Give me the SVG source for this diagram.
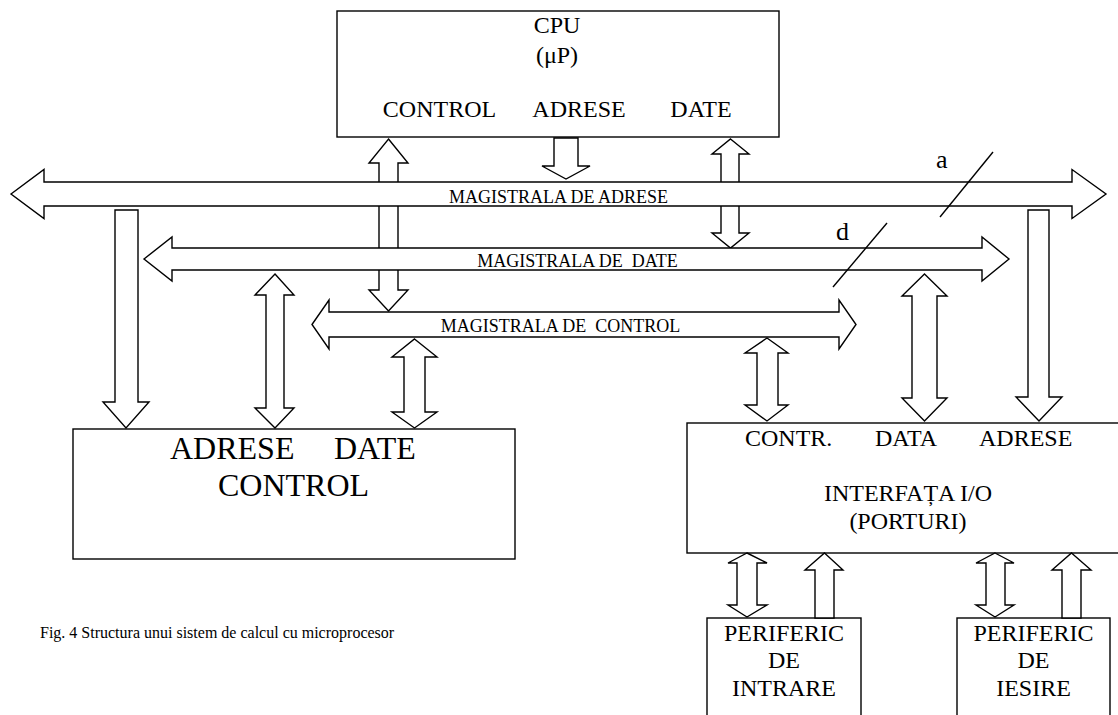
<svg xmlns="http://www.w3.org/2000/svg" width="1118" height="715" viewBox="0 0 1118 715">
<style>
.box{fill:#fff;stroke:#000;stroke-width:1.4}
.arr{fill:#fff;stroke:#000;stroke-width:1.4;stroke-linejoin:miter}
.bus{fill:#fff;stroke:#000;stroke-width:1.4}
.sl{stroke:#000;stroke-width:1.4;fill:none}
text{font-family:"Liberation Serif","Times New Roman",serif;fill:#000}
.t24{font-size:24px}
.t32{font-size:32px}
.t18{font-size:18px}
.t26{font-size:26px}
.mid{text-anchor:middle}
</style>
<rect width="1118" height="715" fill="#fff"/>

<g id="cpu">
<rect class="box" x="337" y="11" width="442" height="126"/>
<text class="t24 mid" x="557" y="33">CPU</text>
<text class="t24 mid" x="557" y="63">(μP)</text>
<text class="t24 mid" x="439.5" y="117">CONTROL</text>
<text class="t24 mid" x="579" y="117">ADRESE</text>
<text class="t24 mid" x="701" y="117">DATE</text>
</g>

<g id="memory">
<rect class="box" x="73" y="429" width="442" height="130"/>
<text class="t32" y="459"><tspan x="170">ADRESE</tspan><tspan x="334">DATE</tspan></text>
<text class="t32 mid" x="293.5" y="496">CONTROL</text>
</g>

<g id="interface">
<rect class="box" x="687" y="423" width="443" height="130"/>
<text class="t24" y="446"><tspan x="745">CONTR.</tspan><tspan x="875">DATA</tspan><tspan x="979">ADRESE</tspan></text>
<text class="t24 mid" x="908" y="501">INTERFAȚA I/O</text>
<text class="t24 mid" x="908" y="529">(PORTURI)</text>
</g>

<g id="periferic-intrare">
<rect class="box" x="707" y="618" width="154" height="110"/>
<text class="t24 mid" x="784" y="641">PERIFERIC</text>
<text class="t24 mid" x="784" y="668">DE</text>
<text class="t24 mid" x="784" y="696">INTRARE</text>
</g>

<g id="periferic-iesire">
<rect class="box" x="957" y="618" width="153" height="110"/>
<text class="t24 mid" x="1033.5" y="641">PERIFERIC</text>
<text class="t24 mid" x="1033.5" y="668">DE</text>
<text class="t24 mid" x="1033.5" y="696">IESIRE</text>
</g>

<g id="connectors">
<!-- CPU control (double) -->
<polygon class="arr" points="388.5,139 408,163 398,163 398,290 408,290 388.5,311 369,290 379,290 379,163 369,163"/>
<!-- CPU adrese (down) -->
<polygon class="arr" points="554,138 578,138 578,166 590,166 566,179 542,166 554,166"/>
<!-- CPU date (double) -->
<polygon class="arr" points="730.5,139 749,154 739,154 739,233 749,233 730.5,248 712,233 721,233 721,154 712,154"/>
<!-- memory address (down) -->
<polygon class="arr" points="115,210 138,210 138,402 149,402 126,428 103,402 115,402"/>
<!-- memory data (double) -->
<polygon class="arr" points="275,274 294,295 284,295 284,408 294,408 275,428 255,408 266,408 266,295 255,295"/>
<!-- memory control (double) -->
<polygon class="arr" points="414.5,339 437,357 425,357 425,412 437,412 414.5,428 392,412 404,412 404,357 392,357"/>
<!-- interface control (double) -->
<polygon class="arr" points="767,338 788,353 778,353 778,405 788,405 767,421 745,405 757,405 757,353 745,353"/>
<!-- interface data (double) -->
<polygon class="arr" points="924.5,274 947,296 937,296 937,398 947,398 924.5,421 902,398 912,398 912,296 902,296"/>
<!-- interface address (down) -->
<polygon class="arr" points="1028,210 1049,210 1049,397 1062,397 1039,421 1016,397 1028,397"/>
<!-- peripheral links -->
<polygon class="arr" points="747,553 767,563 757,563 757,605 767,605 747,617 728,605 737,605 737,563 728,563"/>
<polygon class="arr" points="824.5,553 843,570 834,570 834,618 815,618 815,570 805,570"/>
<polygon class="arr" points="995,553 1014,563 1005,563 1005,605 1014,605 995,617 976,605 986,605 986,563 976,563"/>
<polygon class="arr" points="1071.5,553 1091,570 1081,570 1081,618 1062,618 1062,570 1052,570"/>

<!-- buses -->
<polygon class="bus" points="11,194 44,169.5 44,182 1072,182 1072,169.5 1106,194 1072,218.5 1072,206 44,206 44,218.5"/>
<polygon class="bus" points="144,259 172,237 172,248 982,248 982,237 1009,259 982,281 982,270 172,270 172,281"/>
<polygon class="bus" points="312,324.5 329,300 329,312 839,312 839,300 856,324.5 839,349 839,337 329,337 329,349"/>
<text class="t18 mid" x="558.5" y="203" xml:space="preserve">MAGISTRALA DE ADRESE</text>
<text class="t18 mid" x="577.5" y="267" xml:space="preserve">MAGISTRALA DE  DATE</text>
<text class="t18 mid" x="560.5" y="332" xml:space="preserve">MAGISTRALA DE  CONTROL</text>

<!-- width slashes -->
<line class="sl" x1="940" y1="217" x2="993" y2="152"/>
<text class="t26" x="936" y="168">a</text>
<line class="sl" x1="833" y1="287" x2="887" y2="223"/>
<text class="t26" x="836" y="240">d</text>
</g>

<text id="caption" style="font-size:16px" x="40" y="638">Fig. 4 Structura unui sistem de calcul cu microprocesor</text>
</svg>
